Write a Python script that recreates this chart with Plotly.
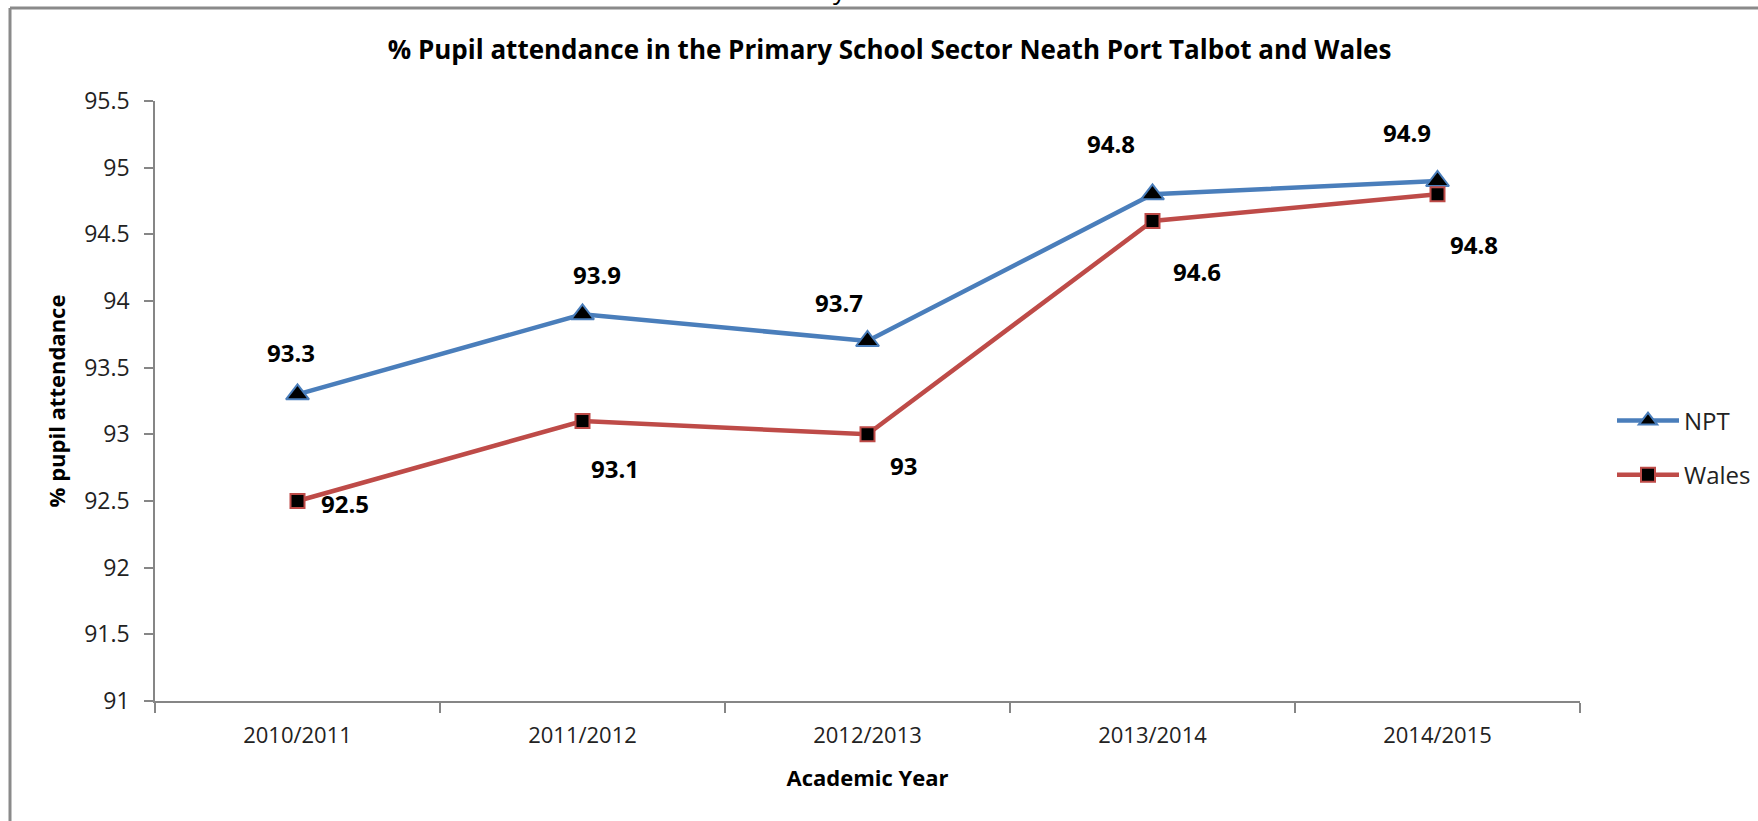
import plotly.graph_objects as go

# ---- data ----
years = ["2010/2011", "2011/2012", "2012/2013", "2013/2014", "2014/2015"]
npt = [93.3, 93.9, 93.7, 94.8, 94.9]
wales = [92.5, 93.1, 93.0, 94.6, 94.8]
npt_labels = ["93.3", "93.9", "93.7", "94.8", "94.9"]
wales_labels = ["92.5", "93.1", "93", "94.6", "94.8"]
y_ticks = [91, 91.5, 92, 92.5, 93, 93.5, 94, 94.5, 95, 95.5]
y_tick_text = ["91", "91.5", "92", "92.5", "93", "93.5", "94", "94.5", "95", "95.5"]

# ---- label offsets (style, px) ----
npt_off = [(-7, 42), (14, 40), (-29, 39), (-42, 51), (-31, 49)]
wales_off = [(47, -2), (32, -47), (36, -31), (44, -50), (36, -50)]

FONT = "Open Sans"
BLUE = "#4A7EBB"
RED = "#BE4B48"
GRID = "#868686"

W, H = 1758, 821
ML, MR, MT, MB = 155, 178, 101, 120

fig = go.Figure()
fig.add_trace(go.Scatter(
    x=years, y=npt, name="NPT", mode="lines+markers", legendgroup="a",
    line=dict(color=BLUE, width=4.5),
    marker=dict(symbol="triangle-up", size=20, color="black",
                line=dict(color=BLUE, width=2)),
))
fig.add_trace(go.Scatter(
    x=years, y=wales, name="Wales", mode="lines+markers", legendgroup="b",
    line=dict(color=RED, width=4.5),
    marker=dict(symbol="square", size=14, color="black",
                line=dict(color=RED, width=2)),
))

annotations = []
for yr, v, t, (dx, dy) in zip(years, npt, npt_labels, npt_off):
    annotations.append(dict(x=yr, y=v, xref="x", yref="y", text=t, showarrow=False,
                            xshift=dx, yshift=dy,
                            font=dict(family=FONT, size=24, color="black", weight="bold")))
for yr, v, t, (dx, dy) in zip(years, wales, wales_labels, wales_off):
    annotations.append(dict(x=yr, y=v, xref="x", yref="y", text=t, showarrow=False,
                            xshift=dx, yshift=dy,
                            font=dict(family=FONT, size=24, color="black", weight="bold")))

plot_w = W - ML - MR
plot_h = H - MT - MB


def px_x(px):
    return (px - ML) / plot_w


def px_y(py):
    return (H - MB - py) / plot_h


# cut-off glyph above the frame
annotations.append(dict(x=px_x(840), y=px_y(9), xref="paper", yref="paper", text="y",
                        showarrow=False, xanchor="center", yanchor="bottom",
                        font=dict(family=FONT, size=26, color="black")))

shapes = [
    dict(type="line", xref="paper", yref="paper", x0=px_x(10), x1=px_x(W + 5),
         y0=px_y(8), y1=px_y(8), line=dict(color="#8a8a8a", width=3)),
    dict(type="line", xref="paper", yref="paper", x0=px_x(10), x1=px_x(10),
         y0=px_y(8), y1=px_y(H + 5), line=dict(color="#8a8a8a", width=3)),
]

fig.update_layout(
    width=W, height=H,
    margin=dict(l=ML, r=MR, t=MT, b=MB, autoexpand=False),
    paper_bgcolor="white", plot_bgcolor="white",
    font=dict(family=FONT, color="#222222"),
    title=dict(text="% Pupil attendance in the Primary School Sector Neath Port Talbot and Wales",
               x=0.506, xanchor="center", y=1 - 50 / H, yanchor="middle",
               font=dict(family=FONT, size=26, color="black", weight="bold")),
    xaxis=dict(type="category", categoryorder="array", categoryarray=years,
               range=[-0.5, 4.5], showline=True, linecolor=GRID, linewidth=1.5,
               ticks="outside", tickson="boundaries", ticklen=10, tickcolor=GRID,
               tickwidth=1.5, showgrid=False, zeroline=False, ticklabelstandoff=14,
               tickfont=dict(family=FONT, size=22, color="#222222"),
               title=dict(text="Academic Year", standoff=22,
                          font=dict(family=FONT, size=22, color="black", weight="bold"))),
    yaxis=dict(range=[91, 95.5], tickvals=y_ticks, ticktext=y_tick_text,
               showline=True, linecolor=GRID, linewidth=1.5,
               ticks="outside", ticklen=9, tickcolor=GRID, tickwidth=1.5,
               showgrid=False, zeroline=False, ticklabelstandoff=10,
               tickfont=dict(family=FONT, size=23, color="#222222"),
               title=dict(text="% pupil attendance", standoff=12,
                          font=dict(family=FONT, size=22, color="black", weight="bold"))),
    legend=dict(x=px_x(1612), y=px_y(448), xanchor="left", yanchor="middle",
                tracegroupgap=20, traceorder="grouped", itemwidth=62,
                font=dict(family=FONT, size=24, color="#222222"),
                bgcolor="rgba(0,0,0,0)"),
    annotations=annotations,
    shapes=shapes,
)

fig.write_html("out.html")
